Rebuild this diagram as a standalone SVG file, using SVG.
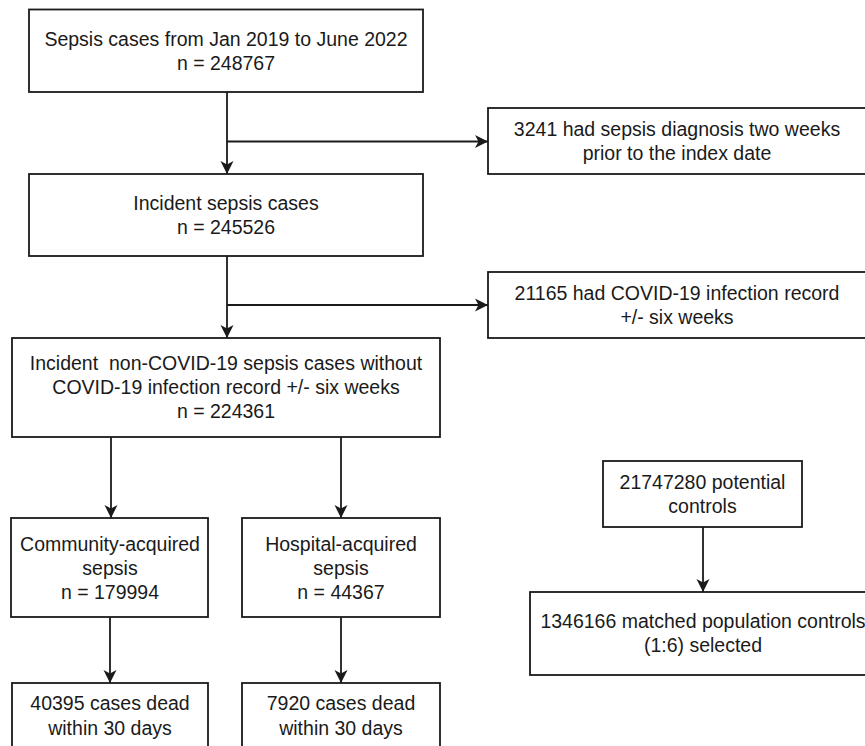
<svg xmlns="http://www.w3.org/2000/svg" width="865" height="746" viewBox="0 0 865 746">
<style>
.box{fill:#fff;stroke:#1a1a1a;stroke-width:1.8}
.t{font-family:"Liberation Sans",Arial,sans-serif;font-size:19.5px;fill:#1a1a1a;text-anchor:middle;white-space:pre}
.c{fill:none;stroke:#1a1a1a;stroke-width:1.8}
</style>
<defs>
<marker id="ah" markerUnits="userSpaceOnUse" markerWidth="14" markerHeight="14" viewBox="0 0 14 14" refX="13" refY="7" orient="auto">
<path d="M0,0.5 L13,7 L0,13.5 L3.5,7 z" fill="#1a1a1a"/>
</marker>
</defs>
<rect width="865" height="746" fill="#fff"/>
<g id="connectors">
<line class="c" x1="227" y1="92" x2="227" y2="174" marker-end="url(#ah)"/>
<line class="c" x1="227" y1="141.5" x2="488" y2="141.5" marker-end="url(#ah)"/>
<line class="c" x1="227" y1="256" x2="227" y2="338" marker-end="url(#ah)"/>
<line class="c" x1="227" y1="305" x2="488" y2="305" marker-end="url(#ah)"/>
<line class="c" x1="111" y1="437" x2="111" y2="518" marker-end="url(#ah)"/>
<line class="c" x1="341" y1="437" x2="341" y2="518" marker-end="url(#ah)"/>
<line class="c" x1="110" y1="617" x2="110" y2="683" marker-end="url(#ah)"/>
<line class="c" x1="341" y1="617" x2="341" y2="683" marker-end="url(#ah)"/>
<line class="c" x1="703" y1="527" x2="703" y2="592" marker-end="url(#ah)"/>
</g>
<g id="n1">
<rect class="box" x="29" y="9.5" width="394" height="82.5"/>
<text class="t" x="226" y="45.5">Sepsis cases from Jan 2019 to June 2022</text>
<text class="t" x="226" y="69.5">n = 248767</text>
</g>
<g id="n2">
<rect class="box" x="488" y="108" width="380" height="66"/>
<text class="t" x="677" y="135.7">3241 had sepsis diagnosis two weeks</text>
<text class="t" x="677" y="159.7">prior to the index date</text>
</g>
<g id="n3">
<rect class="box" x="29" y="174" width="394" height="82"/>
<text class="t" x="226" y="209.7">Incident sepsis cases</text>
<text class="t" x="226" y="233.7">n = 245526</text>
</g>
<g id="n4">
<rect class="box" x="488" y="272" width="380" height="66"/>
<text class="t" x="677" y="299.7">21165 had COVID-19 infection record</text>
<text class="t" x="677" y="323.7">+/- six weeks</text>
</g>
<g id="n5">
<rect class="box" x="12" y="338" width="428" height="99"/>
<text class="t" x="226" y="370">Incident  non-COVID-19 sepsis cases without</text>
<text class="t" x="226" y="394">COVID-19 infection record +/- six weeks</text>
<text class="t" x="226" y="418">n = 224361</text>
</g>
<g id="n6">
<rect class="box" x="11" y="518" width="197" height="99"/>
<text class="t" x="110" y="550.5">Community-acquired</text>
<text class="t" x="110" y="574.5">sepsis</text>
<text class="t" x="110" y="598.5">n = 179994</text>
</g>
<g id="n7">
<rect class="box" x="242" y="518" width="198" height="99"/>
<text class="t" x="341" y="550.5">Hospital-acquired</text>
<text class="t" x="341" y="574.5">sepsis</text>
<text class="t" x="341" y="598.5">n = 44367</text>
</g>
<g id="n8">
<rect class="box" x="12" y="683" width="196" height="80"/>
<text class="t" x="110" y="710">40395 cases dead</text>
<text class="t" x="110" y="735">within 30 days</text>
</g>
<g id="n9">
<rect class="box" x="242" y="683" width="198" height="80"/>
<text class="t" x="341" y="710">7920 cases dead</text>
<text class="t" x="341" y="735">within 30 days</text>
</g>
<g id="n10">
<rect class="box" x="603" y="461" width="199" height="66"/>
<text class="t" x="702.5" y="488.7">21747280 potential</text>
<text class="t" x="702.5" y="512.7">controls</text>
</g>
<g id="n11">
<rect class="box" x="530" y="592" width="346" height="83"/>
<text class="t" x="703" y="627.7">1346166 matched population controls</text>
<text class="t" x="703" y="651.7">(1:6) selected</text>
</g>
</svg>
